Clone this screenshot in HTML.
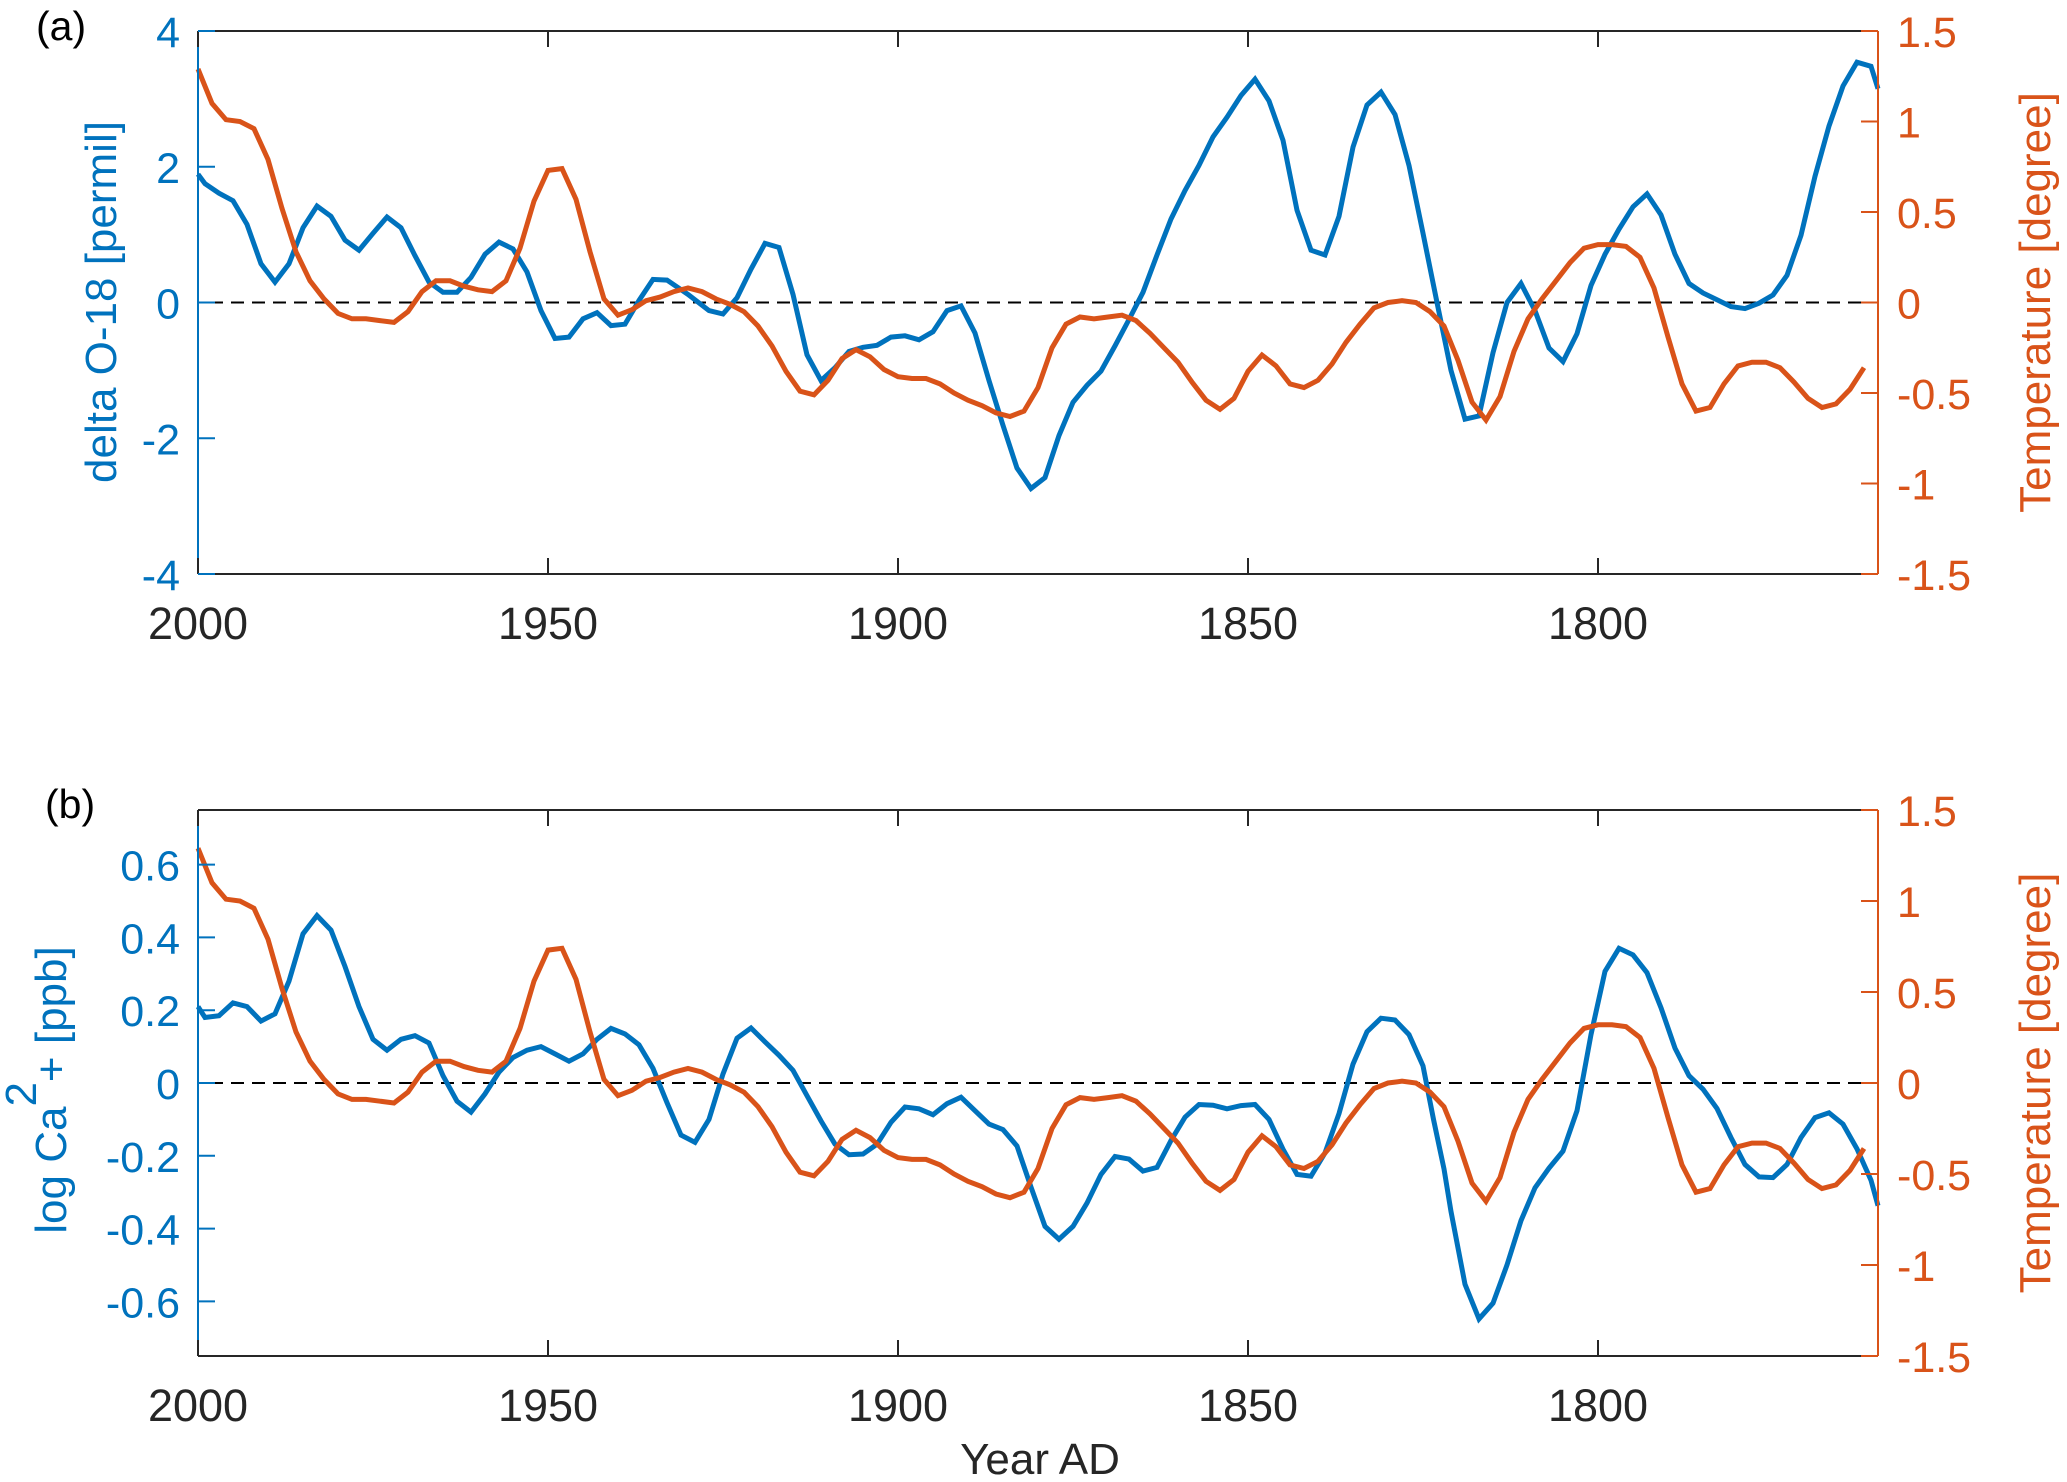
<!DOCTYPE html>
<html><head><meta charset="utf-8">
<style>
html,body{margin:0;padding:0;background:#fff;}
svg{display:block;font-family:"Liberation Sans",Arial,sans-serif;}
</style></head>
<body>
<svg id="chart" width="2067" height="1482" viewBox="0 0 2067 1482" xmlns="http://www.w3.org/2000/svg"></svg>
<script>
// ---- data ----
const tempYears = [2000,1998,1996,1994,1992,1990,1988,1986,1984,1982,1980,1978,1976,1974,1972,1970,1968,1966,1964,1962,1960,1958,1956,1954,1952,1950,1948,1946,1944,1942,1940,1938,1936,1934,1932,1930,1928,1926,1924,1922,1920,1918,1916,1914,1912,1910,1908,1906,1904,1902,1900,1898,1896,1894,1892,1890,1888,1886,1884,1882,1880,1878,1876,1874,1872,1870,1868,1866,1864,1862,1860,1858,1856,1854,1852,1850,1848,1846,1844,1842,1840,1838,1836,1834,1832,1830,1828,1826,1824,1822,1820,1818,1816,1814,1812,1810,1808,1806,1804,1802,1800,1798,1796,1794,1792,1790,1788,1786,1784,1782,1780,1778,1776,1774,1772,1770,1768,1766,1764,1762];
const tempValues = [1.29,1.10,1.01,1.00,0.96,0.79,0.52,0.28,0.12,0.02,-0.06,-0.09,-0.09,-0.10,-0.11,-0.05,0.06,0.12,0.12,0.09,0.07,0.06,0.12,0.30,0.56,0.73,0.74,0.57,0.28,0.02,-0.07,-0.04,0.01,0.03,0.06,0.08,0.06,0.02,-0.01,-0.05,-0.13,-0.24,-0.38,-0.49,-0.51,-0.43,-0.31,-0.26,-0.30,-0.37,-0.41,-0.42,-0.42,-0.45,-0.50,-0.54,-0.57,-0.61,-0.63,-0.60,-0.47,-0.25,-0.12,-0.08,-0.09,-0.08,-0.07,-0.10,-0.17,-0.25,-0.33,-0.44,-0.54,-0.59,-0.53,-0.38,-0.29,-0.35,-0.45,-0.47,-0.43,-0.34,-0.22,-0.12,-0.03,0.0,0.01,0.0,-0.05,-0.13,-0.32,-0.55,-0.65,-0.52,-0.27,-0.09,0.02,0.12,0.22,0.30,0.32,0.32,0.31,0.25,0.08,-0.19,-0.45,-0.60,-0.58,-0.45,-0.35,-0.33,-0.33,-0.36,-0.44,-0.53,-0.58,-0.56,-0.48,-0.36];

const o18Years = [2000,1999,1997,1995,1993,1991,1989,1987,1985,1983,1981,1979,1977,1975,1973,1971,1969,1967,1965,1963,1961,1959,1957,1955,1953,1951,1949,1947,1945,1943,1941,1939,1937,1935,1933,1930,1927,1925,1923,1921,1919,1917,1915,1913,1911,1909,1907,1905,1903,1901,1899,1897,1895,1893,1891,1889,1887,1885,1883,1881,1879,1877,1875,1873,1871,1869,1867,1865,1863,1861,1859,1857,1855,1853,1851,1849,1847,1845,1843,1841,1839,1837,1835,1833,1831,1829,1827,1825,1823,1821,1819,1817,1815,1813,1811,1809,1807,1805,1803,1801,1799,1797,1795,1793,1791,1789,1787,1785,1783,1781,1779,1777,1775,1773,1771,1769,1767,1765,1763,1761,1760];
const o18Values = [1.89,1.75,1.61,1.50,1.15,0.57,0.30,0.57,1.10,1.42,1.27,0.92,0.77,1.02,1.26,1.10,0.69,0.30,0.15,0.15,0.37,0.71,0.89,0.79,0.45,-0.12,-0.53,-0.51,-0.24,-0.15,-0.34,-0.32,0.03,0.34,0.33,0.12,-0.12,-0.17,0.07,0.49,0.87,0.81,0.12,-0.77,-1.15,-0.96,-0.72,-0.66,-0.63,-0.51,-0.49,-0.55,-0.43,-0.12,-0.05,-0.45,-1.15,-1.81,-2.44,-2.74,-2.58,-1.96,-1.47,-1.22,-1.01,-0.64,-0.25,0.15,0.70,1.23,1.65,2.02,2.44,2.73,3.05,3.29,2.97,2.39,1.36,0.77,0.70,1.27,2.29,2.91,3.10,2.77,2.02,1.02,0.0,-1.0,-1.72,-1.67,-0.74,0.0,0.28,-0.12,-0.67,-0.87,-0.46,0.25,0.71,1.08,1.41,1.60,1.29,0.71,0.28,0.14,0.04,-0.06,-0.09,-0.01,0.11,0.40,0.99,1.86,2.60,3.19,3.54,3.48,3.15];

const caYears = [2000,1999,1997,1995,1993,1991,1989,1987,1985,1983,1981,1979,1977,1975,1973,1971,1969,1967,1965,1963,1961,1959,1957,1955,1953,1951,1949,1947,1945,1943,1941,1939,1937,1935,1933,1931,1929,1927,1925,1923,1921,1919,1917,1915,1913,1911,1909,1907,1905,1903,1901,1899,1897,1895,1893,1891,1889,1887,1885,1883,1881,1879,1877,1875,1873,1871,1869,1867,1865,1863,1861,1859,1857,1855,1853,1851,1849,1847,1845,1843,1841,1839,1837,1835,1833,1831,1829,1827,1825,1823.5,1822,1821,1819,1817,1815,1813,1811,1809,1807,1805,1803,1801,1799,1797,1795,1793,1791,1789,1787,1785,1783,1781,1779,1777,1775,1773,1771,1769,1767,1765,1763,1761,1760];
const caValues = [0.21,0.18,0.185,0.22,0.21,0.17,0.19,0.28,0.41,0.46,0.42,0.32,0.21,0.12,0.09,0.12,0.13,0.11,0.02,-0.05,-0.08,-0.03,0.03,0.07,0.09,0.10,0.08,0.06,0.08,0.12,0.15,0.135,0.105,0.04,-0.054,-0.143,-0.163,-0.10,0.025,0.123,0.151,0.113,0.076,0.035,-0.035,-0.104,-0.168,-0.197,-0.195,-0.168,-0.108,-0.066,-0.071,-0.087,-0.057,-0.039,-0.076,-0.113,-0.128,-0.173,-0.286,-0.394,-0.429,-0.394,-0.33,-0.251,-0.202,-0.209,-0.242,-0.232,-0.158,-0.094,-0.059,-0.061,-0.071,-0.062,-0.059,-0.10,-0.182,-0.251,-0.256,-0.192,-0.084,0.052,0.141,0.178,0.173,0.133,0.047,-0.10,-0.236,-0.353,-0.553,-0.648,-0.605,-0.50,-0.378,-0.288,-0.234,-0.187,-0.076,0.133,0.307,0.37,0.352,0.303,0.207,0.096,0.02,-0.017,-0.07,-0.15,-0.224,-0.258,-0.26,-0.224,-0.15,-0.095,-0.082,-0.113,-0.181,-0.267,-0.337];

const xTicks = [2000,1950,1900,1850,1800];
const o18Ticks = [-4,-2,0,2,4];
const caTicks = [-0.6,-0.4,-0.2,0,0.2,0.4,0.6];
const tempTicks = [-1.5,-1,-0.5,0,0.5,1,1.5];

// ---- drawing ----
const NS = "http://www.w3.org/2000/svg";
const svg = document.getElementById('chart');
const BLUE = "#0072BD", ORANGE = "#D95319", DARK = "#262626";
const X0 = 198, X1 = 1878, YEAR0 = 2000, YEAR1 = 1760;
function xScale(y){ return X0 + (YEAR0 - y) / (YEAR0 - YEAR1) * (X1 - X0); }
function mk(tag, attrs, parent){
  const e = document.createElementNS(NS, tag);
  for (const k in attrs) e.setAttribute(k, attrs[k]);
  (parent || svg).appendChild(e);
  return e;
}
function fmt(v){ return (Math.round(v*10)/10).toString(); }

function panel(cfg){
  const g = mk('g', {});
  
  
  const top = cfg.top, bot = cfg.bot;
  const yL = v => bot - (v - cfg.lmin) / (cfg.lmax - cfg.lmin) * (bot - top);
  const yR = v => bot - (v + 1.5) / 3 * (bot - top);

  const z = mk('line', {x1:X0+12, x2:X1, y1:yL(0), y2:yL(0), stroke:'#000', 'stroke-width':2, 'stroke-dasharray':'13,8'}, g);
  
  

  const pl = (ys, vs, sc, col, nm) => {
    const p = mk('polyline', {points: ys.map((y,i)=>xScale(y).toFixed(1)+','+sc(vs[i]).toFixed(1)).join(' '), fill:'none', stroke:col, 'stroke-width':5, 'stroke-linejoin':'miter'}, g);
    
    
  };
  pl(cfg.years, cfg.vals, yL, BLUE, cfg.seriesName);
  pl(tempYears, tempValues, yR, ORANGE, 'temperature-line');

  mk('line', {x1:X0, x2:X1, y1:top, y2:top, stroke:DARK, 'stroke-width':2}, g);
  mk('line', {x1:X0, x2:X1, y1:bot, y2:bot, stroke:DARK, 'stroke-width':2}, g);
  const la = mk('line', {x1:X0, x2:X0, y1:top, y2:bot, stroke:BLUE, 'stroke-width':2}, g);
  
  
  const ra = mk('line', {x1:X1, x2:X1, y1:top, y2:bot, stroke:ORANGE, 'stroke-width':2}, g);
  
  

  xTicks.forEach(t => {
    const x = xScale(t);
    mk('line', {x1:x, x2:x, y1:bot, y2:bot-16, stroke:DARK, 'stroke-width':2}, g);
    mk('line', {x1:x, x2:x, y1:top, y2:top+16, stroke:DARK, 'stroke-width':2}, g);
    const tx = mk('text', {x:x, y:bot+65, 'text-anchor':'middle', 'font-size':45, fill:DARK}, g);
    tx.textContent = t;
    
    
  });
  cfg.ticks.forEach(t => {
    const y = yL(t);
    mk('line', {x1:X0, x2:X0+17, y1:y, y2:y, stroke:BLUE, 'stroke-width':2}, g);
    const tx = mk('text', {x:180, y:y+16, 'text-anchor':'end', 'font-size':43, fill:BLUE}, g);
    tx.textContent = fmt(t);
    
    
  });
  tempTicks.forEach(t => {
    const y = yR(t);
    mk('line', {x1:X1-17, x2:X1, y1:y, y2:y, stroke:ORANGE, 'stroke-width':2}, g);
    const tx = mk('text', {x:1897, y:y+16, 'text-anchor':'start', 'font-size':43, fill:ORANGE}, g);
    tx.textContent = fmt(t);
    
    
  });
  const rt = mk('text', {x:0, y:0, transform:`translate(2050,${(top+bot)/2}) rotate(-90)`, 'text-anchor':'middle', 'font-size':44, fill:ORANGE}, g);
  rt.textContent = 'Temperature [degree]';
  
  
  const pLbl = mk('text', {x:cfg.lx, y:cfg.ly, 'font-size':41, fill:'#000'}, g);
  pLbl.textContent = cfg.letter;
  
  
  return {g, top, bot};
}

const a = panel({name:'panel-a', top:31, bot:574, lmin:-4, lmax:4, years:o18Years, vals:o18Values, ticks:o18Ticks, seriesName:'delta-o18-line', letter:'(a)', lx:36, ly:40});
const lt1 = mk('text', {x:0, y:0, transform:'translate(116,302) rotate(-90)', 'text-anchor':'middle', 'font-size':44, fill:BLUE}, a.g);
lt1.textContent = 'delta O-18 [permil]';



const b = panel({name:'panel-b', top:810, bot:1356, lmin:-0.75, lmax:0.75, years:caYears, vals:caValues, ticks:caTicks, seriesName:'log-ca-line', letter:'(b)', lx:45, ly:818});
const lt2 = mk('text', {x:0, y:0, transform:'translate(66,1090) rotate(-90)', 'text-anchor':'middle', 'font-size':44, fill:BLUE}, b.g);


const s1 = mk('tspan', {}, lt2); s1.textContent = 'log Ca';
const s2 = mk('tspan', {dy:-30, 'font-size':44}, lt2); s2.textContent = '2';
const s3 = mk('tspan', {dy:30}, lt2); s3.textContent = '+ [ppb]';

const xt = mk('text', {x:1040, y:1474, 'text-anchor':'middle', 'font-size':44, fill:DARK});
xt.textContent = 'Year AD';


</script>
</body></html>
